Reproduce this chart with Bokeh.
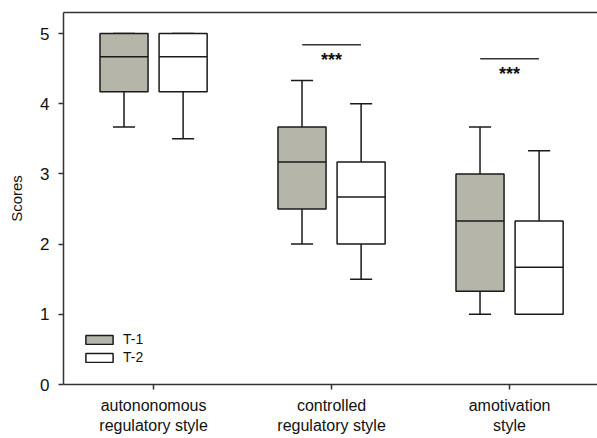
from bokeh.plotting import figure
from bokeh.models import FixedTicker, LinearAxis, Legend, LegendItem, ColumnDataSource
from bokeh.core.properties import value
from bokeh.embed import file_html
from bokeh.resources import INLINE

# ---- data ----
categories = ["autononomous\nregulatory style", "controlled\nregulatory style", "amotivation\nstyle"]
series = ["T-1", "T-2"]
t1_low = [3.67, 2.0, 1.0]
t1_q1 = [4.17, 2.5, 1.33]
t1_med = [4.67, 3.17, 2.33]
t1_q3 = [5.0, 3.67, 3.0]
t1_high = [5.0, 4.33, 3.67]
t2_low = [3.5, 1.5, 1.0]
t2_q1 = [4.17, 2.0, 1.0]
t2_med = [4.67, 2.67, 1.67]
t2_q3 = [5.0, 3.17, 2.33]
t2_high = [5.0, 4.0, 3.33]
sig_groups = [2, 3]
sig_line_y = [4.84, 4.64]
sig_text_y = [4.66, 4.47]
sig_labels = ["***", "***"]
y_ticks = [0, 1, 2, 3, 4, 5]

FONT = "Liberation Sans"
LINE = "#1a1a1a"
FILL1 = "#b5b5a9"

p = figure(width=597, height=438, output_backend="svg", toolbar_location=None,
           x_range=(0.494, 3.494), y_range=(0, 5.3),
           min_border_left=63, min_border_right=0, min_border_top=12, min_border_bottom=54)
p.outline_line_color = None
p.grid.visible = False
p.background_fill_color = "white"
p.border_fill_color = "white"

groups = [1, 2, 3]
off = 0.166
bw = 0.27
cw = 0.124

renderers = []
for k, (low, q1, med, q3, high, fill) in enumerate([
        (t1_low, t1_q1, t1_med, t1_q3, t1_high, FILL1),
        (t2_low, t2_q1, t2_med, t2_q3, t2_high, "white")]):
    xs = [g + (-off if k == 0 else off) for g in groups]
    src = ColumnDataSource(dict(x=xs, low=low, q1=q1, med=med, q3=q3, high=high,
                                x0=[x - bw / 2 for x in xs], x1=[x + bw / 2 for x in xs],
                                c0=[x - cw / 2 for x in xs], c1=[x + cw / 2 for x in xs]))
    p.segment(x0="x", y0="q3", x1="x", y1="high", source=src, line_color=LINE, line_width=1.5)
    p.segment(x0="x", y0="q1", x1="x", y1="low", source=src, line_color=LINE, line_width=1.5)
    p.segment(x0="c0", y0="high", x1="c1", y1="high", source=src, line_color=LINE, line_width=1.5)
    p.segment(x0="c0", y0="low", x1="c1", y1="low", source=src, line_color=LINE, line_width=1.5)
    r = p.vbar(x="x", width=bw, bottom="q1", top="q3", source=src,
               fill_color=fill, line_color=LINE, line_width=1.5)
    p.segment(x0="x0", y0="med", x1="x1", y1="med", source=src, line_color=LINE, line_width=1.5)
    renderers.append(r)

# significance markers
sig_src = ColumnDataSource(dict(x=sig_groups, y=sig_line_y, ty=sig_text_y, t=sig_labels,
                                x0=[g - 0.165 for g in sig_groups], x1=[g + 0.165 for g in sig_groups]))
p.segment(x0="x0", y0="y", x1="x1", y1="y", source=sig_src, line_color="#333333", line_width=1.5)
p.text(x="x", y="ty", text="t", source=sig_src, text_align="center", text_baseline="middle",
       y_offset=3, text_font=value(FONT), text_font_size="18px", text_font_style="bold",
       text_color="#111111")

# axes
xa = p.xaxis[0]
xa.ticker = FixedTicker(ticks=groups)
xa.major_label_overrides = {g: c for g, c in zip(groups, categories)}
xa.minor_tick_line_color = None
xa.major_tick_out = 5
xa.major_tick_in = 0
xa.major_label_standoff = 7
xa.major_label_text_font = FONT
xa.major_label_text_font_size = "16px"
xa.major_label_text_color = "#111111"
xa.axis_line_width = 1.5
xa.axis_line_color = "#333333"
xa.major_tick_line_width = 1.5
xa.major_tick_line_color = "#333333"

ya = p.yaxis[0]
ya.ticker = FixedTicker(ticks=y_ticks)
ya.minor_tick_line_color = None
ya.major_tick_out = 5
ya.major_tick_in = 0
ya.major_label_standoff = 9
ya.major_label_text_font = FONT
ya.major_label_text_font_size = "17px"
ya.major_label_text_color = "#111111"
ya.axis_label = "Scores"
ya.axis_label_text_font = FONT
ya.axis_label_text_font_size = "15px"
ya.axis_label_text_font_style = "normal"
ya.axis_label_text_color = "#111111"
ya.axis_label_standoff = 12
ya.axis_line_width = 1.5
ya.axis_line_color = "#333333"
ya.major_tick_line_width = 1.5
ya.major_tick_line_color = "#333333"

top = LinearAxis(ticker=FixedTicker(ticks=[]),
                 major_tick_out=0, major_tick_in=0, minor_tick_out=0, minor_tick_in=0,
                 axis_line_width=1.5, axis_line_color="#333333", major_label_standoff=0)
p.add_layout(top, "above")

legend = Legend(items=[LegendItem(label=s, renderers=[r]) for s, r in zip(series, renderers)],
                location=(19, 19), padding=0, margin=0, spacing=2,
                glyph_width=34, glyph_height=11, label_height=11, label_standoff=7,
                label_text_font=FONT, label_text_font_size="14px", label_text_color="#111111",
                border_line_color=None, background_fill_alpha=0)
p.add_layout(legend)

open("out.html", "w").write(file_html(p, INLINE))
